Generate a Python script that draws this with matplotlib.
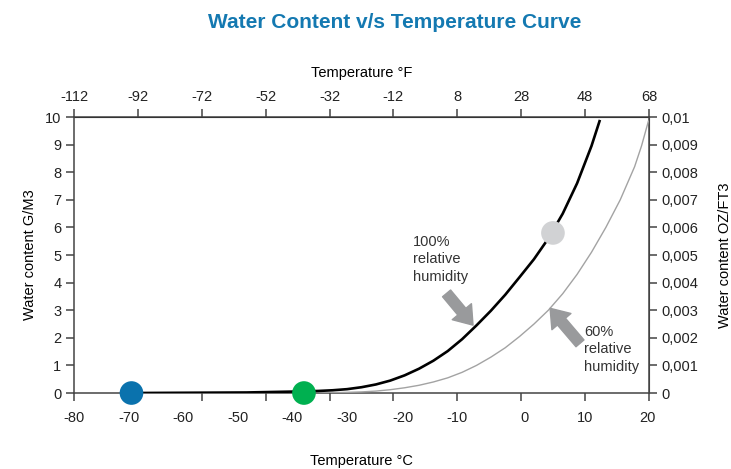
import matplotlib
matplotlib.use('Agg')
import matplotlib.pyplot as plt

# 100% relative humidity curve (deg C, g/m3)
temp_100 = [-70, -60, -50, -45, -40, -37.5, -35, -32.5, -30, -27.5, -25, -22.5, -20, -17.5, -15,
            -12.5, -10, -7.5, -5, -2.5, 0, 2.5, 5, 7.5, 10, 11.4]
wc_100 = [0.0, 0.01, 0.02, 0.04, 0.06, 0.075, 0.1, 0.14, 0.21, 0.31, 0.45, 0.64, 0.88, 1.17, 1.52,
          1.95, 2.45, 2.98, 3.56, 4.2, 4.85, 5.6, 6.5, 7.6, 8.95, 9.85]

# 60% relative humidity curve
temp_60 = [-70, -50, -40, -35, -30, -27.5, -25, -22.5, -20, -17.5, -15, -12.5, -10, -7.5, -5,
           -2.5, 0, 2.5, 5, 7.5, 10, 12.5, 15, 17.5, 18.7, 19.9]
wc_60 = [0.0, 0.0, 0.0, 0.01, 0.04, 0.07, 0.12, 0.19, 0.28, 0.4, 0.55, 0.75, 1.0, 1.3, 1.64,
         2.05, 2.5, 3.0, 3.6, 4.3, 5.1, 6.0, 7.0, 8.2, 8.95, 9.85]

# highlighted points
dot_temp = [-70, -40, 3.3]
dot_wc = [0.0, 0.0, 5.8]
dot_colors = ['#0A72AD', '#00B050', '#D1D2D4']

# axis ticks
f_ticks = [-112, -92, -72, -52, -32, -12, 8, 28, 48, 68]
c_labels = ['-80', '-70', '-60', '-50', '-40', '-30', '-20', '-10', '0', '10', '20']
c_label_pos = [-80, -70.4, -61, -51.5, -42.1, -32.5, -22.8, -13.4, -1.7, 8.9, 19.8]
y_ticks = list(range(0, 11))
oz_ticks = [0, 0.001, 0.002, 0.003, 0.004, 0.005, 0.006, 0.007, 0.008, 0.009, 0.01]
oz_labels = ['0', '0,001', '0,002', '0,003', '0,004', '0,005', '0,006', '0,007', '0,008', '0,009', '0,01']

plt.rcParams.update({
    'font.family': ['Liberation Sans', 'DejaVu Sans'],
    'font.size': 10.5,
    'axes.unicode_minus': False,
    'text.color': '#222222',
    'axes.edgecolor': '#444444',
    'xtick.color': '#444444',
    'ytick.color': '#444444',
    'xtick.labelcolor': '#222222',
    'ytick.labelcolor': '#222222',
})

fig = plt.figure(figsize=(7.31, 4.69), dpi=100)
ax = fig.add_axes([0.1012, 0.162, 0.7866, 0.5885])

ax.plot(temp_60, wc_60, color='#A3A3A3', lw=1.0, zorder=3)
ax.plot(temp_100, wc_100, color='black', lw=1.9, zorder=4)
ax.scatter(dot_temp, dot_wc, s=290, c=dot_colors, zorder=6, clip_on=False, linewidths=0)

ax.set_xlim(-80, 20)
ax.set_ylim(0, 10)
for s in ax.spines.values():
    s.set_linewidth(1.1)

# bottom: tick marks sit on the Fahrenheit grid, Celsius labels placed as in the original
ax.xaxis.remove_overlapping_locs = False
ax.set_xticks([(f - 32) / 1.8 for f in f_ticks], labels=[])
ax.set_xticks(c_label_pos, labels=c_labels, minor=True)
ax.tick_params(axis='x', which='major', direction='out', length=6, width=1.1)
ax.tick_params(axis='x', which='minor', length=0, pad=13)
ax.set_yticks(y_ticks)
ax.tick_params(axis='y', direction='out', length=6, width=1.1, pad=3)

ax.set_xlabel('Temperature °C', labelpad=21)
ax.set_ylabel('Water content G/M3', labelpad=6)

top = ax.secondary_xaxis('top', functions=(lambda c: c * 1.8 + 32, lambda f: (f - 32) / 1.8))
top.set_xticks(f_ticks)
top.tick_params(direction='out', length=6, width=1.1, pad=3.5)
top.spines['top'].set_color('black')
top.set_xlabel('Temperature °F', labelpad=9)

right = ax.secondary_yaxis('right', functions=(lambda y: y / 1000, lambda y: y * 1000))
right.set_yticks(oz_ticks, labels=oz_labels)
right.tick_params(direction='out', length=6, width=1.1, pad=3)
right.set_ylabel('Water content OZ/FT3', labelpad=14)

# annotations
arrow = dict(arrowstyle='simple,head_length=0.7,head_width=1.0,tail_width=0.42',
             color='#999A9C', mutation_scale=18, shrinkA=0, shrinkB=0)
ax.annotate('', xy=(-10.6, 2.46), xytext=(-15.2, 3.61), arrowprops=arrow)
ax.annotate('', xy=(2.8, 3.07), xytext=(8.0, 1.80), arrowprops=arrow)
ax.text(-21.0, 5.72, '100%\nrelative\nhumidity', ha='left', va='top', linespacing=1.3, color='#333333')
ax.text(8.7, 2.46, '60%\nrelative\nhumidity', ha='left', va='top', linespacing=1.3, color='#333333')

fig.text(0.54, 0.953, 'Water Content v/s Temperature Curve', ha='center', va='center',
         fontsize=15, fontweight='bold', color='#1479B1',
         family=['Liberation Sans Narrow', 'Liberation Sans', 'DejaVu Sans'])

fig.savefig('out.png', dpi=100)
